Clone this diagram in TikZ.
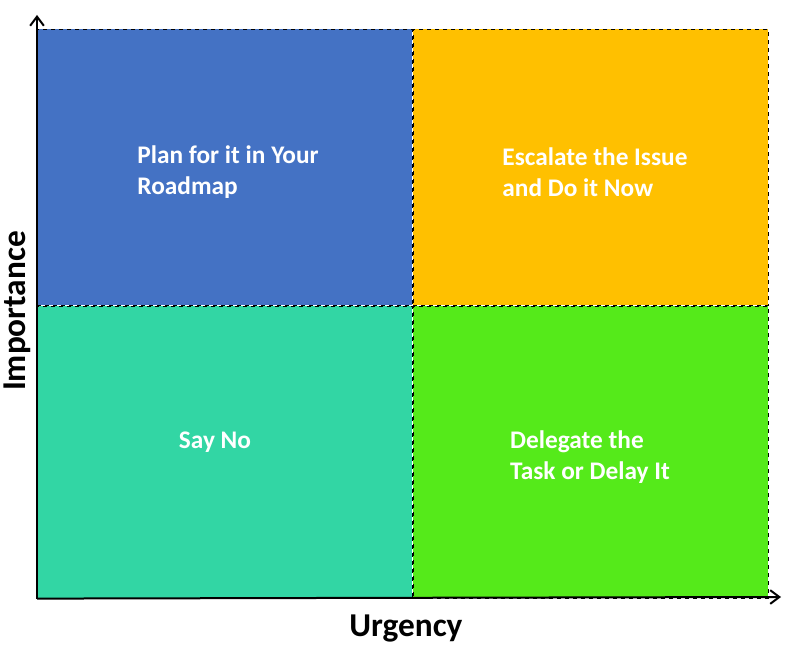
\documentclass[tikz,border=0pt]{standalone}
\usepackage{fontspec}
\setmainfont{Carlito}
\usetikzlibrary{arrows.meta,positioning}
\definecolor{qblue}{RGB}{68,114,196}
\definecolor{qorange}{RGB}{255,192,0}
\definecolor{qteal}{RGB}{50,214,164}
\definecolor{qgreen}{RGB}{85,234,26}
\tikzset{
  quad/.style={
    draw=black, dashed, line width=0.6pt, inner sep=0pt, anchor=north west
  },
  qtext/.style={text=white, font=\bfseries\fontsize{19}{23}\selectfont, align=left},
  axis/.style={-{Straight Barb[length=2.4mm,width=3.6mm]}, draw=black, line width=1.5pt},
  axlabel/.style={font=\bfseries\fontsize{25}{30}\selectfont, inner sep=0pt, anchor=base}
}
\begin{document}
\begin{tikzpicture}[x=0.75pt,y=-0.75pt]
  \useasboundingbox (0,0) rectangle (800,648);
  \node[quad, fill=qblue, minimum width=281.25pt, minimum height=207pt] (plan) at (37,29) {};
  \node[quad, fill=qorange, minimum width=266.25pt, minimum height=207pt] (escalate) at (plan.north east) {};
  \node[quad, fill=qteal, minimum width=281.25pt, minimum height=219pt] (sayno) at (plan.south west) {};
  \node[quad, fill=qgreen, minimum width=266.25pt, minimum height=219pt] (delegate) at (sayno.north east) {};
  % axes
  \coordinate (origin) at (sayno.south west);
  \coordinate (ytip) at (37,15);
  \coordinate (xtip) at (781,597);
  \draw[axis] (origin) -- (ytip);
  \draw[axis] (origin) -- (xtip);
  % quadrant texts
  \node[qtext] (plantext) at (228,172) {Plan for it in Your\\Roadmap};
  \node[qtext] (escalatetext) at (595,172) {Escalate the Issue\\and Do it Now};
  \node[qtext] (saynotext) at (215,442) {Say No};
  \node[qtext] (delegatetext) at (590,457) {Delegate the\\Task or Delay It};
  \node[axlabel, rotate=90] (importance) at (25,311) {Importance};
  \node[axlabel] (urgency) at (406,636) {Urgency};
\end{tikzpicture}
\end{document}
